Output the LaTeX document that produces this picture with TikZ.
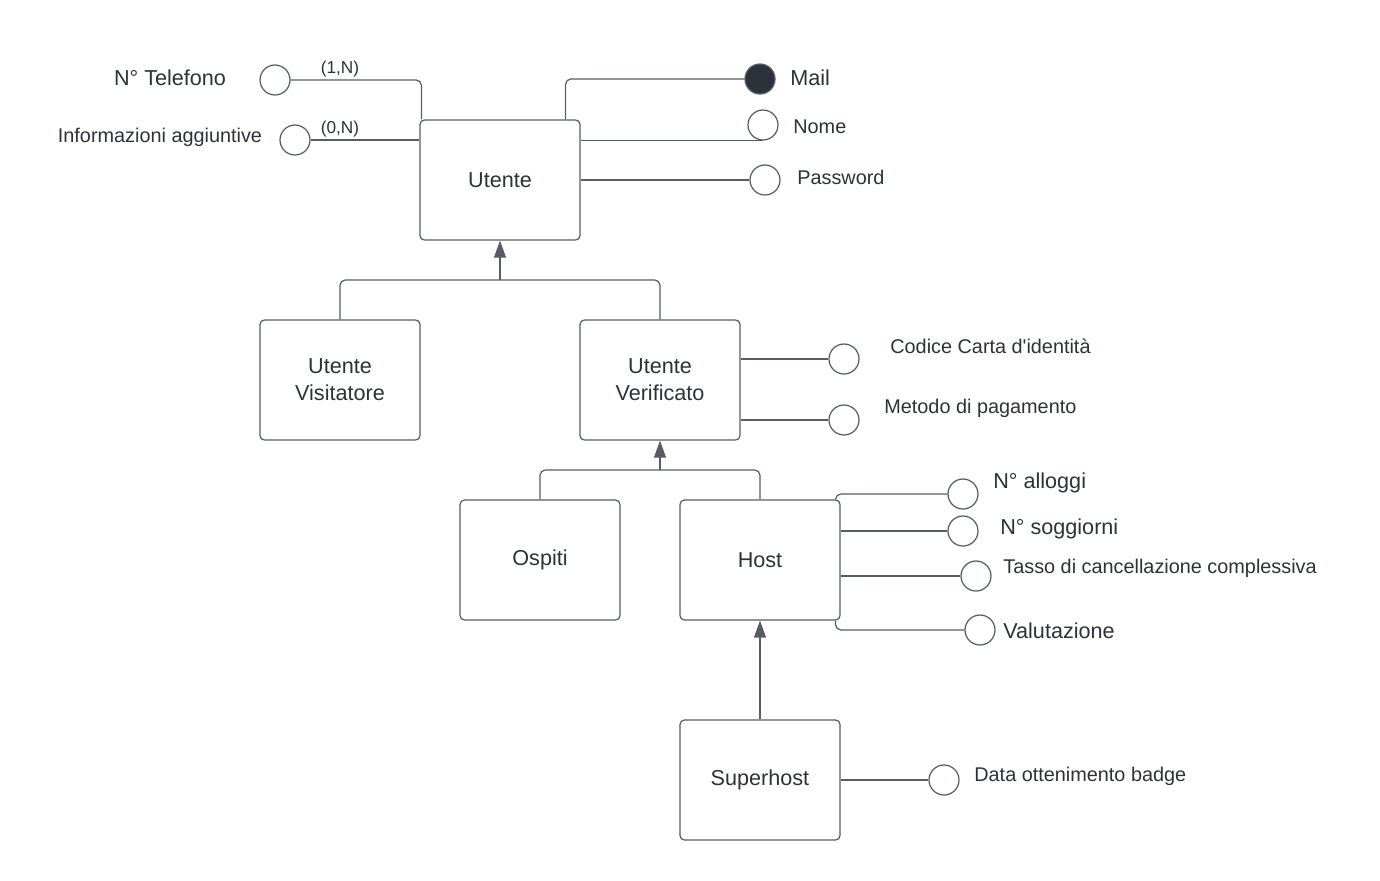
\documentclass[tikz,border=0pt]{standalone}
\usepackage{fontspec}
\setmainfont{Liberation Sans}
\usetikzlibrary{arrows.meta}
\definecolor{edge}{RGB}{88,92,100}
\definecolor{ink}{RGB}{45,49,58}

\begin{document}
\begin{tikzpicture}[x=0.02cm, y=-0.02cm]
    \tikzstyle{entity} = [rectangle, draw=edge, rounded corners=2.5pt, line width=0.7pt, minimum width=3.2cm, minimum height=2.4cm, text=ink, align=center, font=\fontsize{12.3}{15.3}\selectfont]
    \tikzstyle{attr} = [circle, draw=edge, fill=white, line width=0.7pt, minimum size=0.6cm, inner sep=0pt]
    \tikzstyle{key} = [attr, fill=ink]
    \tikzstyle{bigtxt} = [inner sep=0pt, text=ink, font=\fontsize{12.3}{14}\selectfont]
    \tikzstyle{smalltxt} = [inner sep=0pt, text=ink, font=\fontsize{11.3}{13}\selectfont]
    \tikzstyle{card} = [inner sep=0pt, text=ink, font=\fontsize{9.8}{12}\selectfont]
    \tikzstyle{line} = [draw=edge, line width=0.7pt, rounded corners=3pt]
    \tikzstyle{isa} = [line, -{Triangle[width=0.24cm, length=0.34cm]}]

    \useasboundingbox (0,0) rectangle (1380,880);

    % entities
    \node [entity] (utente) at (500,180) {Utente};
    \node [entity] (visit) at (340,380) {Utente\\Visitatore};
    \node [entity] (verif) at (660,380) {Utente\\Verificato};
    \node [entity] (ospiti) at (540,560) {Ospiti};
    \node [entity] (host) at (760,560) {Host};
    \node [entity] (super) at (760,780) {Superhost};

    % attributes of Utente
    \node [attr] (tel) at (275,80) {};
    \node [attr] (info) at (295,140) {};
    \node [key] (mail) at (760,79) {};
    \node [attr] (nome) at (763,125) {};
    \node [attr] (pass) at (765,180) {};
    \node [bigtxt] (teltxt) at (170,78) {N° Telefono};
    \node [smalltxt] (infotxt) at (160,137) {Informazioni aggiuntive};
    \node [card] (telcard) at (340,69) {(1,N)};
    \node [card] (infocard) at (340,129) {(0,N)};
    \node [bigtxt, anchor=west] (mailtxt) at (790,78) {Mail};
    \node [smalltxt, anchor=west] (nometxt) at (793,127) {Nome};
    \node [smalltxt, anchor=west] (passtxt) at (797,177) {Password};

    \draw [line] (tel.east) -| ([xshift=0.04cm]utente.north west);
    \draw [line] (info.east) -- (utente.west |- info);
    \draw [line] ([xshift=-0.3cm]utente.north east) |- (mail.west);
    \draw [line] (utente.east |- nome.south) -- (nome.south);
    \draw [line] (utente.east |- pass) -- (pass.west);

    % attributes of Utente Verificato
    \node [attr] (codice) at (844,359) {};
    \node [attr] (metodo) at (844,420) {};
    \node [smalltxt, anchor=west] (codicetxt) at (890,346) {Codice Carta d\textquotesingle identità};
    \node [smalltxt, anchor=west] (metodotxt) at (884,408) {Metodo di pagamento};
    \draw [line] (verif.east |- codice) -- (codice.west);
    \draw [line] (verif.east |- metodo) -- (metodo.west);

    % attributes of Host
    \node [attr] (alloggi) at (963,494) {};
    \node [attr] (sogg) at (963,531) {};
    \node [attr] (tasso) at (976,576) {};
    \node [attr] (valut) at (980,630) {};
    \node [bigtxt, anchor=west] (alloggitxt) at (993,483) {N° alloggi};
    \node [bigtxt, anchor=west] (soggtxt) at (1000,529) {N° soggiorni};
    \node [smalltxt, anchor=west] (tassotxt) at (1003,568) {Tasso di cancellazione complessiva};
    \node [bigtxt, anchor=west] (valuttxt) at (1003,631) {Valutazione};
    \draw [line] ([xshift=-0.1cm]host.north east) |- (alloggi.west);
    \draw [line] (host.east |- sogg) -- (sogg.west);
    \draw [line] (host.east |- tasso) -- (tasso.west);
    \draw [line] ([xshift=-0.1cm]host.south east) |- (valut.west);

    % attribute of Superhost
    \node [attr] (data) at (944,780) {};
    \node [smalltxt, anchor=west] (datatxt) at (974,776) {Data ottenimento badge};
    \draw [line] (super.east) -- (data.west);

    % generalizations
    \coordinate (gen1) at (500,280);
    \coordinate (gen2) at (660,470);
    \draw [line] (visit.north) |- (gen1) -| (verif.north);
    \draw [isa] (gen1) -- (utente.south);
    \draw [line] (ospiti.north) |- (gen2) -| (host.north);
    \draw [isa] (gen2) -- (verif.south);
    \draw [isa] (super.north) -- (host.south);
\end{tikzpicture}
\end{document}
